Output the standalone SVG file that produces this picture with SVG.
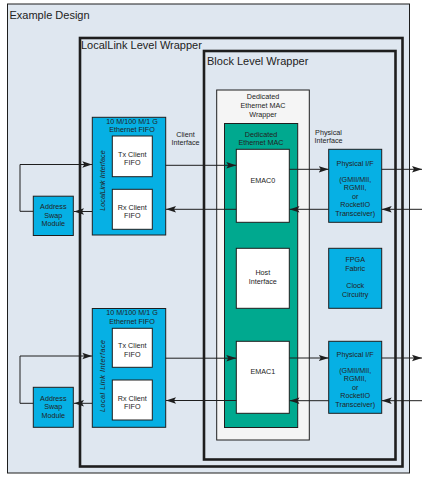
<svg xmlns="http://www.w3.org/2000/svg" width="428" height="483" viewBox="0 0 428 483">
<style>
text{font-family:"Liberation Sans",Arial,sans-serif;fill:#222}
.t{font-size:11px}
.s{font-size:7.2px;text-anchor:middle}
.sl{font-size:7.2px;text-anchor:middle;font-style:italic}
.wrap{fill:none;stroke:#1e1e1e;stroke-width:2.6}
.cyan{fill:#06b0e4;stroke:#1e1e1e;stroke-width:1}
.white{fill:#ffffff;stroke:#1e1e1e;stroke-width:1}
.green{fill:#00a98f;stroke:#1e1e1e;stroke-width:1}
.c{fill:none;stroke:#1e1e1e;stroke-width:1}
</style>
<defs>
<marker id="ah" markerUnits="userSpaceOnUse" markerWidth="10" markerHeight="8" viewBox="0 0 10 8" refX="10" refY="4" orient="auto">
<path d="M0,0.8 L10,4 L0,7.2 L2,4 z" fill="#1e1e1e"/>
</marker>
</defs>
<rect width="428" height="483" fill="#ffffff"/>
<g id="example-design">
<rect x="7.5" y="4" width="402" height="469" fill="#dfe7f0" stroke="#1e1e1e" stroke-width="1"/>
<text class="t" x="9.5" y="18.5">Example Design</text>
</g>
<g id="locallink-wrapper">
<rect class="wrap" x="80" y="38" width="322.5" height="428.5"/>
<text class="t" x="81" y="48.5">LocalLink Level Wrapper</text>
</g>
<g id="block-wrapper">
<rect class="wrap" x="204" y="51" width="191.5" height="408.5"/>
<text class="t" x="207" y="64.5">Block Level Wrapper</text>
</g>
<g id="mac-wrapper">
<rect x="216.7" y="90" width="92.6" height="350" fill="#f5f5f5" stroke="#1e1e1e" stroke-width="1"/>
<text class="s" x="263" y="98.5">Dedicated</text>
<text class="s" x="263" y="107.8">Ethernet MAC</text>
<text class="s" x="263" y="116.5">Wrapper</text>
</g>
<g id="ethernet-mac">
<rect class="green" x="224.5" y="123.5" width="73.2" height="304"/>
<text class="s" x="261" y="136.8">Dedicated</text>
<text class="s" x="261" y="145.2">Ethernet MAC</text>
</g>
<g id="emac0">
<rect class="white" x="236.3" y="149.3" width="53" height="73"/>
<text class="s" x="262.8" y="182.5">EMAC0</text>
</g>
<g id="host-interface">
<rect class="white" x="236.3" y="248.3" width="53" height="60"/>
<text class="s" x="262.8" y="274.8">Host</text>
<text class="s" x="262.8" y="284.2">Interface</text>
</g>
<g id="emac1">
<rect class="white" x="236.3" y="341.3" width="53" height="72"/>
<text class="s" x="262.8" y="374.2">EMAC1</text>
</g>
<g id="phy0">
<rect class="cyan" x="328.7" y="149.3" width="53" height="73"/>
<text class="s" x="355.2" y="165.8">Physical I/F</text>
<text class="s" x="355.2" y="181.5">(GMII/MII,</text>
<text class="s" x="355.2" y="189.8">RGMII,</text>
<text class="s" x="355.2" y="198.5">or</text>
<text class="s" x="355.2" y="206.8">RocketIO</text>
<text class="s" x="355.2" y="215.8">Transceiver)</text>
</g>
<g id="fpga-clock">
<rect class="cyan" x="328.7" y="248.3" width="53" height="60"/>
<text class="s" x="355.2" y="261.5">FPGA</text>
<text class="s" x="355.2" y="270.8">Fabric</text>
<text class="s" x="355.2" y="288.2">Clock</text>
<text class="s" x="355.2" y="296.8">Circuitry</text>
</g>
<g id="phy1">
<rect class="cyan" x="328.7" y="341.3" width="53" height="72"/>
<text class="s" x="355.2" y="356.8">Physical I/F</text>
<text class="s" x="355.2" y="372.5">(GMII/MII,</text>
<text class="s" x="355.2" y="381.2">RGMII,</text>
<text class="s" x="355.2" y="389.9">or</text>
<text class="s" x="355.2" y="398.4">RocketIO</text>
<text class="s" x="355.2" y="406.8">Transceiver)</text>
</g>
<g id="fifo0">
<rect class="cyan" x="92.3" y="117.3" width="73.4" height="117.7"/>
<text class="s" x="132" y="123.5">10 M/100 M/1 G</text>
<text class="s" x="132" y="131.8">Ethernet FIFO</text>
<text class="sl" transform="translate(105,180.5) rotate(-90)">LocalLink Interface</text>
</g>
<g id="tx-fifo0">
<rect class="white" x="112.3" y="136" width="40" height="40.7"/>
<text class="s" x="132.3" y="156.8">Tx Client</text>
<text class="s" x="132.3" y="164.8">FIFO</text>
</g>
<g id="rx-fifo0">
<rect class="white" x="112.3" y="189.3" width="40" height="40"/>
<text class="s" x="132.3" y="210.2">Rx Client</text>
<text class="s" x="132.3" y="218.2">FIFO</text>
</g>
<g id="addr-swap0">
<rect class="cyan" x="33.3" y="196.2" width="40" height="39.3"/>
<text class="s" x="53.3" y="209.2">Address</text>
<text class="s" x="53.3" y="217.6">Swap</text>
<text class="s" x="53.3" y="226.4">Module</text>
</g>
<g id="fifo1">
<rect class="cyan" x="92.3" y="308.5" width="73.4" height="118.8"/>
<text class="s" x="132" y="315.2">10 M/100 M/1 G</text>
<text class="s" x="132" y="324.2">Ethernet FIFO</text>
<text class="sl" transform="translate(105,376) rotate(-90)" textLength="72" lengthAdjust="spacing">Local Link Interface</text>
</g>
<g id="tx-fifo1">
<rect class="white" x="112.3" y="328.3" width="40" height="39"/>
<text class="s" x="132.3" y="348.2">Tx Client</text>
<text class="s" x="132.3" y="356.5">FIFO</text>
</g>
<g id="rx-fifo1">
<rect class="white" x="112.3" y="380" width="40" height="40"/>
<text class="s" x="132.3" y="400.8">Rx Client</text>
<text class="s" x="132.3" y="409.2">FIFO</text>
</g>
<g id="addr-swap1">
<rect class="cyan" x="33.3" y="387.3" width="40" height="40"/>
<text class="s" x="53.3" y="401.2">Address</text>
<text class="s" x="53.3" y="409.4">Swap</text>
<text class="s" x="53.3" y="418">Module</text>
</g>
<g id="labels">
<text class="s" x="185.5" y="137">Client</text>
<text class="s" x="185.5" y="145.3">Interface</text>
<text class="s" x="328.5" y="135">Physical</text>
<text class="s" x="328.5" y="143.3">Interface</text>
</g>
<g id="connectors">
<path class="c" d="M33.3,211.3 H20 V164.5 H92.3" marker-end="url(#ah)"/>
<path class="c" d="M92.3,211.5 H74" marker-end="url(#ah)"/>
<path class="c" d="M165.7,165.3 H236.3" marker-end="url(#ah)"/>
<path class="c" d="M236.3,209.3 H166" marker-end="url(#ah)"/>
<path class="c" d="M289.3,169.3 H328.7" marker-end="url(#ah)"/>
<path class="c" d="M381.7,169.3 H422" marker-end="url(#ah)"/>
<path class="c" d="M422,209.3 H381.7" marker-end="url(#ah)"/>
<path class="c" d="M328.7,209.3 H289.5" marker-end="url(#ah)"/>
<path class="c" d="M33.3,403.3 H20 V356 H92.3" marker-end="url(#ah)"/>
<path class="c" d="M92.3,403.3 H74" marker-end="url(#ah)"/>
<path class="c" d="M165.7,358.2 H236.3" marker-end="url(#ah)"/>
<path class="c" d="M236.3,400.5 H166" marker-end="url(#ah)"/>
<path class="c" d="M289.3,358 H328.7" marker-end="url(#ah)"/>
<path class="c" d="M381.7,358 H422" marker-end="url(#ah)"/>
<path class="c" d="M422,400.7 H381.7" marker-end="url(#ah)"/>
<path class="c" d="M328.7,400.7 H289.5" marker-end="url(#ah)"/>
</g>
</svg>
